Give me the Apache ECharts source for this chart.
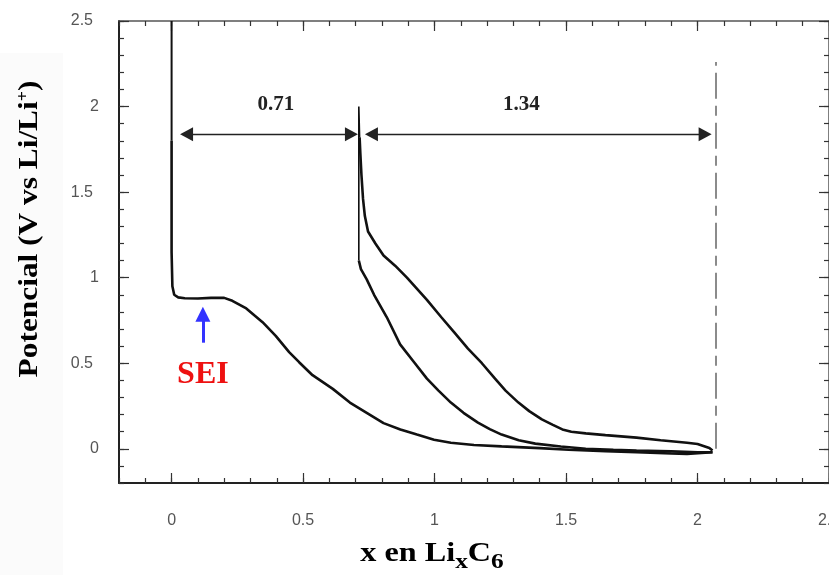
<!DOCTYPE html>
<html><head><meta charset="utf-8">
<script src="https://cdn.jsdelivr.net/npm/echarts@6/dist/echarts.min.js"></script>
<style>html,body{margin:0;padding:0;background:#fff}#c{width:829px;height:575px}</style>
</head><body><div id="c"></div>
<script>
// ---- data ----
const axisMin = -0.2, axisMax = 2.5;
const majorTicks = [0, 0.5, 1, 1.5, 2, 2.5];

// initial OCV drop at x = 0 (thin part)
const initialX = [0, 0];
const initialY = [2.5, 1.8];

// first discharge (lithiation)
const firstDischargeX = [0, 0, 0.003, 0.01, 0.025, 0.05, 0.1, 0.15, 0.2, 0.231, 0.284, 0.346, 0.396, 0.447, 0.485, 0.536, 0.613, 0.678, 0.742, 0.806, 0.87, 0.933, 0.998, 1.062, 1.15, 1.255, 1.4, 1.51, 1.65, 1.768, 1.9, 1.96, 2.057];
const firstDischargeY = [1.8, 1.15, 0.95, 0.9, 0.885, 0.88, 0.878, 0.882, 0.882, 0.865, 0.82, 0.74, 0.66, 0.565, 0.506, 0.43, 0.35, 0.27, 0.21, 0.15, 0.113, 0.083, 0.053, 0.035, 0.022, 0.014, 0.004, -0.006, -0.014, -0.02, -0.028, -0.03, -0.02];

// first charge (delithiation)
const chargeX = [2.057, 2.045, 2.0, 1.96, 1.86, 1.768, 1.65, 1.575, 1.52, 1.486, 1.45, 1.408, 1.36, 1.319, 1.27, 1.23, 1.18, 1.127, 1.075, 1.025, 0.971, 0.93, 0.895, 0.85, 0.806, 0.775, 0.747, 0.735, 0.728, 0.722, 0.718, 0.715];
const chargeY = [-0.01, 0.005, 0.028, 0.035, 0.05, 0.065, 0.08, 0.09, 0.1, 0.113, 0.14, 0.172, 0.22, 0.27, 0.34, 0.41, 0.5, 0.585, 0.68, 0.77, 0.87, 0.94, 1.0, 1.07, 1.13, 1.2, 1.27, 1.36, 1.46, 1.6, 1.72, 1.82];

// end of charge / relaxation at x = 0.71
const restX = [0.715, 0.712, 0.712];
const restY = [1.82, 2.0, 1.1];

// second discharge
const secondDischargeX = [0.712, 0.72, 0.742, 0.77, 0.818, 0.869, 0.92, 0.971, 1.015, 1.062, 1.11, 1.165, 1.21, 1.255, 1.32, 1.383, 1.48, 1.575, 1.68, 1.768, 1.9, 2.0, 2.057];
const secondDischargeY = [1.1, 1.05, 0.99, 0.9, 0.77, 0.61, 0.51, 0.41, 0.34, 0.27, 0.21, 0.153, 0.115, 0.083, 0.05, 0.03, 0.013, 0.0, -0.006, -0.01, -0.015, -0.02, -0.02];

// annotations (data coordinates)
const arrowY = 1.838;
const irreversibleArrowX = [0.057, 0.684];
const reversibleArrowX = [0.760, 2.029];
const cutoffX = 2.07;
const cutoffY = [0, 2.26];
const seiArrowX = 0.119;
const seiArrowY = [0.62, 0.786];
const labelTexts = ['0.71', '1.34', 'SEI'];
const labelX = [0.397, 1.33, 0.119];
const labelY = [2.009, 2.009, 0.434];

// ---- chart ----
const zip = (xs, ys) => xs.map((x, i) => [x, ys[i]]);
const chart = echarts.init(document.getElementById('c'), null, {renderer: 'canvas'});

function mkAxis(dim, position, major, showLabel) {
  const strong = (position === 'left' || position === 'bottom');
  const ax = {
    type: 'value', min: axisMin, max: axisMax, interval: 0.1, position: position,
    splitLine: {show: false},
    axisLine: {show: !major, onZero: false, lineStyle: {color: strong ? '#222' : '#555', width: strong ? 2 : 1.5}},
    axisTick: {show: true, inside: true, length: major ? 10 : 5, lineStyle: {color: '#333', width: 1.2}},
    axisLabel: {show: false}
  };
  if (major) {
    ax.axisTick.customValues = majorTicks;
    ax.axisLabel = {show: showLabel, customValues: majorTicks, color: '#555', fontFamily: 'Liberation Sans', fontSize: 16};
    if (showLabel && dim === 'y') {
      ax.axisLabel.margin = 20;
      ax.axisLabel.formatter = v => Number.isInteger(v) ? '{i|' + v + '}' : '{f|' + v + '}';
      ax.axisLabel.rich = {i: {fontSize: 16, color: '#555', fontFamily: 'Liberation Sans'}, f: {fontSize: 16, color: '#555', fontFamily: 'Liberation Sans', padding: [0, 6, 0, 0]}};
    }
    if (showLabel && dim === 'x') {
      ax.axisLabel.margin = 30;
    }
  }
  return ax;
}

const curveStyle = {color: '#111', width: 2.6};
const thinStyle = {color: '#111', width: 1.6};
const lineSeries = (name, data, style) => ({
  name, type: 'line', data, xAxisIndex: 0, yAxisIndex: 0, showSymbol: false, symbol: 'none',
  lineStyle: style, animation: false, silent: true, z: 3
});

const option = {
  backgroundColor: '#fff',
  animation: false,
  grid: {left: 119, right: 0, top: 21, bottom: 92, containLabel: false, outerBoundsMode: 'none'},
  xAxis: [mkAxis('x', 'bottom', false), mkAxis('x', 'bottom', true, true), mkAxis('x', 'top', false), mkAxis('x', 'top', true, false)],
  yAxis: [mkAxis('y', 'left', false), mkAxis('y', 'left', true, true), mkAxis('y', 'right', false), mkAxis('y', 'right', true, false)],
  series: [
    lineSeries('initial', zip(initialX, initialY), {color: '#111', width: 2}),
    lineSeries('firstDischarge', zip(firstDischargeX, firstDischargeY), curveStyle),
    lineSeries('charge', zip(chargeX, chargeY), curveStyle),
    lineSeries('rest', zip(restX, restY), thinStyle),
    lineSeries('secondDischarge', zip(secondDischargeX, secondDischargeY), curveStyle),
    {
      name: 'annotations', type: 'line', data: [], xAxisIndex: 0, yAxisIndex: 0, silent: true, animation: false,
      markLine: {
        silent: true, animation: false, label: {show: false},
        symbol: ['triangle', 'triangle'], symbolSize: [14, 13],
        lineStyle: {color: '#222', width: 1.3, type: 'solid'},
        emphasis: {disabled: true},
        data: [
          [{coord: [irreversibleArrowX[0], arrowY]}, {coord: [irreversibleArrowX[1], arrowY]}],
          [{coord: [reversibleArrowX[0], arrowY]}, {coord: [reversibleArrowX[1], arrowY]}],
          [{coord: [cutoffX, cutoffY[0]], symbol: 'none', lineStyle: {color: '#666', width: 1.5, type: [26, 7, 10, 7]}},
           {coord: [cutoffX, cutoffY[1]], symbol: 'none'}],
          [{coord: [seiArrowX, seiArrowY[0]], symbol: 'none', lineStyle: {color: '#3333ff', width: 3, type: 'solid'}},
           {coord: [seiArrowX, seiArrowY[1]], symbol: 'triangle', symbolSize: [15, 15]}]
        ]
      }
    },
    {
      name: 'labels', type: 'scatter', xAxisIndex: 0, yAxisIndex: 0, symbolSize: 0, silent: true, animation: false, z: 5,
      itemStyle: {opacity: 1},
      data: labelTexts.map((t, i) => ({
        value: [labelX[i], labelY[i]], name: t,
        label: t === 'SEI'
          ? {show: true, position: 'inside', formatter: t, color: '#ee1111', fontFamily: 'Liberation Serif', fontWeight: 'bold', fontSize: 32}
          : {show: true, position: 'inside', formatter: t, color: '#222', fontFamily: 'Liberation Serif', fontWeight: 'bold', fontSize: 21}
      }))
    }
  ],
  graphic: [
    {type: 'rect', shape: {x: 0, y: 53, width: 63, height: 522}, style: {fill: '#fbfbfb'}, z: -10, silent: true},
    {
      type: 'text', x: 432, y: 540, scaleX: 1.15, silent: true, z: 10,
      style: {
        text: '{m|x en Li}{s|x}{m|C}{s|6}', align: 'center', verticalAlign: 'top',
        rich: {
          m: {fontFamily: 'Liberation Serif', fontWeight: 'bold', fontSize: 28, lineHeight: 34, verticalAlign: 'top', fill: '#000'},
          s: {fontFamily: 'Liberation Serif', fontWeight: 'bold', fontSize: 22, lineHeight: 22, verticalAlign: 'top', padding: [11.5, 0, 0, 0], fill: '#000'}
        }
      }
    },
    {
      type: 'text', x: 16, y: 229, rotation: Math.PI / 2, scaleX: 1.12, silent: true, z: 10,
      style: {
        text: '{m|Potencial (V vs Li/Li}{p|+}{m|)}', align: 'center', verticalAlign: 'top',
        rich: {
          m: {fontFamily: 'Liberation Serif', fontWeight: 'bold', fontSize: 28, lineHeight: 34, verticalAlign: 'top', fill: '#000'},
          p: {fontFamily: 'Liberation Serif', fontWeight: 'bold', fontSize: 16, lineHeight: 16, verticalAlign: 'top', fill: '#000'}
        }
      }
    }
  ]
};
chart.setOption(option);
</script>
</body></html>
